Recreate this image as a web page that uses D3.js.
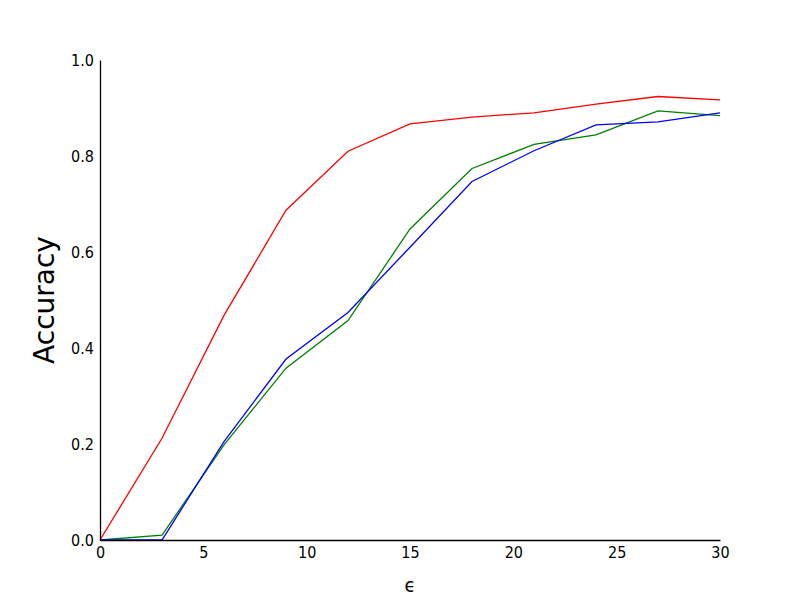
<!DOCTYPE html>
<html><head><meta charset="utf-8">
<script src="https://cdn.jsdelivr.net/npm/d3@7"></script>
<style>body{margin:0;background:#fff}svg{display:block}</style>
</head><body>
<svg id="c" width="800" height="600"></svg>
<script>
const epsilons = [0, 3, 6, 9, 12, 15, 18, 21, 24, 27, 30];
const redValues = [0.0, 0.212, 0.468, 0.687, 0.81, 0.867, 0.881, 0.890, 0.908, 0.924, 0.917];
const greenValues = [0.0, 0.010, 0.198, 0.358, 0.457, 0.648, 0.774, 0.824, 0.844, 0.894, 0.884];
const blueValues = [0.0, 0.0, 0.205, 0.377, 0.474, 0.61, 0.747, 0.811, 0.865, 0.871, 0.890];
const xTicks = [0, 5, 10, 15, 20, 25, 30];
const yTicks = [0.0, 0.2, 0.4, 0.6, 0.8, 1.0];
const seriesList = [
  {name: "red", values: redValues, color: "#ff0000"},
  {name: "green", values: greenValues, color: "#008000"},
  {name: "blue", values: blueValues, color: "#0000ff"}
];

const svg = d3.select("#c");
const x = d3.scaleLinear().domain([0, 30]).range([100, 720]);
const y = d3.scaleLinear().domain([0, 1]).range([540, 60]);
const font = "'DejaVu Sans Condensed', 'DejaVu Sans', sans-serif";

const line = d3.line().x((d, i) => x(epsilons[i])).y(d => y(d));
seriesList.forEach(s => {
  svg.append("path").datum(s.values)
    .attr("fill", "none").attr("stroke", s.color)
    .attr("stroke-width", 1.3).attr("stroke-linejoin", "miter")
    .attr("d", line);
});

const xAxis = svg.append("g").attr("transform", "translate(0,540)")
  .call(d3.axisBottom(x).tickValues(xTicks).tickSize(0).tickPadding(7).tickFormat(d3.format("d")));
const yAxis = svg.append("g").attr("transform", "translate(100,0)")
  .call(d3.axisLeft(y).tickValues(yTicks).tickSize(0).tickPadding(6).tickFormat(d3.format(".1f")));
[xAxis, yAxis].forEach(a => {
  a.select(".domain").attr("stroke", "#000").attr("stroke-width", 1.3);
  a.selectAll("text").attr("font-family", font).attr("font-size", 16).attr("fill", "#000");
});

svg.append("text").attr("x", 410).attr("y", 592).attr("text-anchor", "middle")
  .attr("font-family", font).attr("font-size", 20).text("ϵ");
svg.append("text").attr("transform", "translate(54,300) rotate(-90)").attr("text-anchor", "middle")
  .attr("font-family", "DejaVu Sans, sans-serif").attr("font-size", 28).text("Accuracy");
</script>
</body></html>
